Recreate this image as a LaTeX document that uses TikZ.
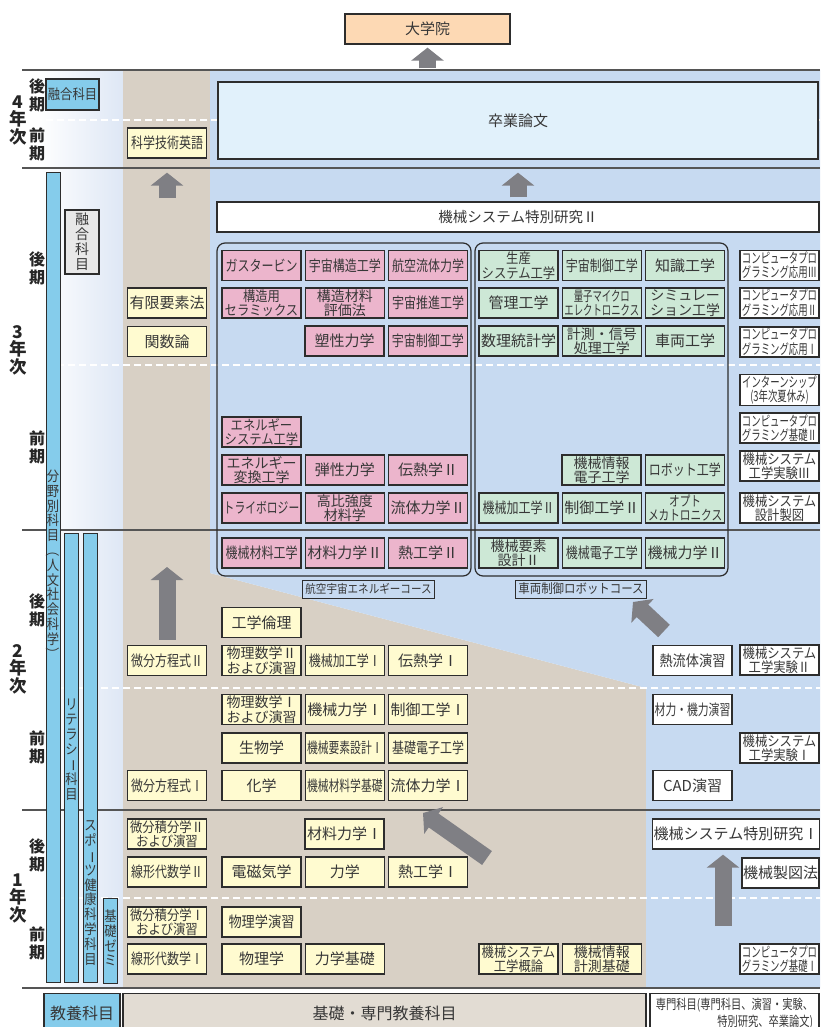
\documentclass[tikz,border=0pt]{standalone}
\usepackage{fontspec}
\usepackage{graphicx}
\usetikzlibrary{arrows.meta,positioning}
\newfontfamily\jp{Noto Sans CJK JP}
\newfontfamily\jpn{Noto Sans CJK JP}[FakeStretch=0.88]
\newfontfamily\jpm{Noto Sans CJK JP}[FakeStretch=0.8]
\newfontfamily\jpq{Noto Sans CJK JP}[FakeStretch=0.76]
\newfontfamily\jpk{Noto Sans CJK JP}[FakeStretch=0.72]
\newfontfamily\jpx{Noto Sans CJK JP}[FakeStretch=0.67]
\newcommand\tate[1]{\rotatebox[origin=c]{-90}{#1}}
\definecolor{ink}{RGB}{55,55,55}
\definecolor{edge}{RGB}{45,45,45}
\definecolor{cream}{RGB}{255,251,208}
\definecolor{rose}{RGB}{236,181,204}
\definecolor{mint}{RGB}{205,232,214}
\definecolor{sky}{RGB}{133,204,235}
\definecolor{sand}{RGB}{216,208,197}
\definecolor{pale}{RGB}{199,218,241}
\definecolor{mist}{RGB}{222,231,245}
\definecolor{ice}{RGB}{225,241,251}
\definecolor{peach}{RGB}{253,217,180}
\definecolor{fog}{RGB}{232,232,232}
\definecolor{slate}{RGB}{127,127,132}
\definecolor{band}{RGB}{85,85,85}
\begin{document}
\begin{tikzpicture}[x=1pt, y=-1pt, node distance=3pt]
  \tikzstyle{cell}=[draw=edge, line width=1.3pt, minimum width=79pt, minimum height=30pt, inner sep=1pt, align=center, text=ink, font=\jp\fontsize{15}{16}\selectfont]
  \tikzstyle{yel}=[cell, fill=cream]
  \tikzstyle{pnk}=[cell, fill=rose]
  \tikzstyle{grn}=[cell, fill=mint]
  \tikzstyle{wht}=[cell, fill=white]
  \tikzstyle{f1}=[font=\jpn\fontsize{15}{16}\selectfont]
  \tikzstyle{f2}=[font=\jpm\fontsize{15}{16}\selectfont]
  \tikzstyle{f3}=[font=\jpk\fontsize{15}{16}\selectfont]
  \tikzstyle{g0}=[font=\jp\fontsize{14}{14.5}\selectfont]
  \tikzstyle{g1}=[font=\jpn\fontsize{14}{14.5}\selectfont]
  \tikzstyle{g2}=[font=\jpq\fontsize{14}{14.5}\selectfont]
  \tikzstyle{g3}=[font=\jpx\fontsize{14}{14.5}\selectfont]
  \tikzstyle{bar}=[draw=edge, line width=1pt, fill=sky, minimum width=14pt, inner sep=0pt]
  \tikzstyle{vtext}=[text=ink, align=center, inner sep=0pt, font=\jpn\fontsize{14}{14.8}\selectfont]
  \tikzstyle{year}=[align=center, inner sep=0pt, text=black!85, font=\jp\bfseries\fontsize{17.5}{17.5}\selectfont]
  \tikzstyle{term}=[align=center, inner sep=0pt, text=black!85, font=\jp\bfseries\fontsize{16}{18}\selectfont]
  \tikzstyle{course}=[rounded corners=8pt, draw=edge, line width=1.2pt, inner sep=0pt]
  \tikzstyle{tag}=[draw=edge, line width=1pt, inner xsep=3pt, inner ysep=1pt, minimum height=18pt, text=ink]
  \tikzstyle{fat}=[line width=17pt, draw=slate, -{Triangle[width=32pt,length=13pt]}]

  \useasboundingbox (0,0) rectangle (820,1027);
  \clip (0,0) rectangle (820,1027);
  \fill[white] (0,0) rectangle (820,1027);
  \shade[left color=white, right color=mist] (38,70) rectangle (123,988);
  \fill[sand] (123,70) -- (210,70) -- (210,573) -- (646,688) -- (646,988) -- (123,988) -- cycle;
  \fill[pale] (210,70) -- (820,70) -- (820,988) -- (646,988) -- (646,688) -- (210,573) -- cycle;
  \foreach \y in {120,365,688,898}
    \draw[white, line width=1.6pt, dash pattern=on 7pt off 4pt] (35,\y) -- (820,\y);
  \foreach \y in {70,168,530,810,988}
    \draw[band, line width=1.2pt] (22,\y) -- (820,\y);

  % years and terms
  \node[year] (y4) at (18,120) {4\\年\\次};
  \node[year] (y3) at (18,350) {3\\年\\次};
  \node[year] (y2) at (18,669) {2\\年\\次};
  \node[year] (y1) at (18,898) {1\\年\\次};
  \node[term] (t4b) at (37,95) {後\\期};
  \node[term] (t4a) at (37,144) {前\\期};
  \node[term] (t3b) at (37,268) {後\\期};
  \node[term] (t3a) at (37,447) {前\\期};
  \node[term] (t2b) at (37,610) {後\\期};
  \node[term] (t2a) at (37,747) {前\\期};
  \node[term] (t1b) at (37,855) {後\\期};
  \node[term] (t1a) at (37,943) {前\\期};

  % liberal arts bars
  \node[bar, minimum height=809pt] (bunya) at (53,577.5) {};
  \node[bar, minimum height=449pt] (litera) at (71.5,757.5) {};
  \node[bar, minimum height=449pt] (sports) at (90.5,757.5) {};
  \node[bar, minimum height=85pt] (kiso) at (110.5,940.5) {};
  \node[vtext] (bunyat) at (53,565) {分\\野\\別\\科\\目\\\tate{（}\\人\\文\\社\\会\\科\\学\\\tate{）}};
  \node[vtext] (literat) at (71.5,750) {リ\\テ\\ラ\\シ\\\tate{ー}\\科\\目};
  \node[vtext] (sportst) at (90.5,893) {ス\\ポ\\\tate{ー}\\ツ\\健\\康\\科\\学\\科\\目};
  \node[vtext] (kisot) at (110.5,938) {基\\礎\\ゼ\\ミ};
  \node[cell, fill=sky, minimum width=53pt, minimum height=31pt, font=\jpn\fontsize{14}{16}\selectfont] (yugo4) at (72.5,94.5) {融合科目};
  \node[cell, fill=fog, minimum width=34pt, minimum height=64pt, font=\jp\fontsize{14}{15}\selectfont] (yugo3) at (82,242) {融\\合\\科\\目};

  % 4th year
  \node[cell, fill=peach, minimum width=165pt] (grad) at (427.5,29) {大学院};
  \node[cell, fill=ice, minimum width=600pt, minimum height=77pt] (thesis) at (518,120.5) {卒業論文};
  \node[yel, f2] (eigo) at (167,143) {科学技術英語};

  % 3rd year
  \node[wht, minimum width=602pt, font=\jp\fontsize{14.5}{16}\selectfont] (toku2) at (518,217) {機械システム特別研究Ⅱ};
  \node[course, minimum width=254pt, minimum height=333pt] (aero) at (344,409.5) {};
  \node[course, minimum width=253pt, minimum height=333pt] (car) at (601.5,409.5) {};
  \node[tag, font=\jpn\fontsize{12}{13}\selectfont] (aerot) at (368.5,589) {航空宇宙エネルギーコース};
  \node[tag, font=\jpn\fontsize{13}{14}\selectfont] (cart) at (581,589) {車両制御ロボットコース};

  \node[yel] (yugen) at (167,303) {有限要素法};
  \node[yel] (kansu) at (167,341.5) {関数論};

  \node[pnk, f2] (gas) at (261.5,265.5) {ガスタービン};
  \node[pnk, f2, right=of gas] (ustr) {宇宙構造工学};
  \node[pnk, f2, right=of ustr] (aflu) {航空流体力学};
  \node[pnk, g1] (cera) at (261.5,303) {構造用\\セラミックス};
  \node[pnk, g0, right=of cera] (hyoka) {構造材料\\評価法};
  \node[pnk, f2, right=of hyoka] (suishin) {宇宙推進工学};
  \node[pnk] (sosei) at (344.5,341) {塑性力学};
  \node[pnk, f2, right=of sosei] (useigyo) {宇宙制御工学};

  \node[grn, g1] (seisan) at (518.5,265.5) {生産\\システム工学};
  \node[grn, f2, right=of seisan] (useigyo2) {宇宙制御工学};
  \node[grn, right=of useigyo2] (chishiki) {知識工学};
  \node[grn] (kanri) at (518.5,303) {管理工学};
  \node[grn, g3, right=of kanri] (ryoshi) {量子マイクロ\\エレクトロニクス};
  \node[grn, g0, right=of ryoshi] (simu) {シミュレー\\ション工学};
  \node[grn] (suri) at (518.5,341) {数理統計学};
  \node[grn, g0, right=of suri] (keisoku) {計測・信号\\処理工学};
  \node[grn, right=of keisoku] (sharyo) {車両工学};

  \node[wht, g3] (oyo3) at (779.5,265.5) {コンピュータプロ\\グラミング応用Ⅲ};
  \node[wht, g3] (oyo2) at (779.5,303) {コンピュータプロ\\グラミング応用Ⅱ};
  \node[wht, g3] (oyo1) at (779.5,342) {コンピュータプロ\\グラミング応用Ⅰ};
  \node[wht, g3] (intern) at (779.5,390) {インターンシップ\\(3年次夏休み)};
  \node[wht, g3] (kiso2) at (779.5,428) {コンピュータプロ\\グラミング基礎Ⅱ};
  \node[wht, g1] (jikken3) at (779.5,466) {機械システム\\工学実験Ⅲ};
  \node[wht, g1] (seizu) at (779.5,508) {機械システム\\設計製図};

  \node[pnk, g1] (enesys) at (261.5,432) {エネルギー\\システム工学};
  \node[pnk, g0] (enehen) at (261.5,470) {エネルギー\\変換工学};
  \node[pnk, right=of enehen] (dansei) {弾性力学};
  \node[pnk, right=of dansei] (den2) {伝熱学Ⅱ};
  \node[pnk, f3] (tribo) at (261.5,508) {トライボロジー};
  \node[pnk, g0, right=of tribo] (kohi) {高比強度\\材料学};
  \node[pnk, right=of kohi] (ryu2) {流体力学Ⅱ};

  \node[grn, g0] (joho) at (601.5,470) {機械情報\\電子工学};
  \node[grn, f2, right=of joho] (robot) {ロボット工学};
  \node[grn, f2] (kako2) at (518.5,508) {機械加工学Ⅱ};
  \node[grn, right=of kako2] (seigyo2) {制御工学Ⅱ};
  \node[grn, g2, right=of seigyo2] (opto) {オプト\\メカトロニクス};

  % 2nd year
  \node[pnk, f2] (zairyo) at (261.5,553) {機械材料工学};
  \node[pnk, right=of zairyo] (zairiki2) {材料力学Ⅱ};
  \node[pnk, right=of zairiki2] (netsu2) {熱工学Ⅱ};
  \node[grn, g0] (yoso2) at (518.5,553) {機械要素\\設計Ⅱ};
  \node[grn, f2, right=of yoso2] (denshi) {機械電子工学};
  \node[grn, right=of denshi] (kiriki2) {機械力学Ⅱ};

  \node[yel] (rinri) at (261.5,622.5) {工学倫理};
  \node[yel, f2] (bibun2) at (167,660.5) {微分方程式Ⅱ};
  \node[yel, g0] (busu2) at (261.5,660.5) {物理数学Ⅱ\\および演習};
  \node[yel, f2, right=of busu2] (kako1) {機械加工学Ⅰ};
  \node[yel, right=of kako1] (den1) {伝熱学Ⅰ};
  \node[wht, f1] (netsuryu) at (692.5,660.5) {熱流体演習};
  \node[wht, g1] (jikken2) at (779.5,660) {機械システム\\工学実験Ⅱ};

  \node[yel, g0] (busu1) at (261.5,709.5) {物理数学Ⅰ\\および演習};
  \node[yel, right=of busu1] (kiriki1) {機械力学Ⅰ};
  \node[yel, right=of kiriki1] (seigyo1) {制御工学Ⅰ};
  \node[wht, f3] (zaiki) at (692.5,709.5) {材力・機力演習};
  \node[yel] (seibutsu) at (261.5,748) {生物学};
  \node[yel, f3, right=of seibutsu] (yoso1) {機械要素設計Ⅰ};
  \node[yel, f2, right=of yoso1] (kisoden) {基礎電子工学};
  \node[wht, g1] (jikken1) at (779.5,748) {機械システム\\工学実験Ⅰ};
  \node[yel, f2] (bibun1) at (167,785.5) {微分方程式Ⅰ};
  \node[yel] (kagaku) at (261.5,785.5) {化学};
  \node[yel, f3, right=of kagaku] (zaikiso) {機械材料学基礎};
  \node[yel, right=of zaikiso] (ryu1) {流体力学Ⅰ};
  \node[wht] (cad) at (692.5,785.5) {CAD演習};

  % 1st year
  \node[yel, g1] (seki2) at (167,834) {微分積分学Ⅱ\\および演習};
  \node[yel] (zairiki1) at (344.5,834) {材料力学Ⅰ};
  \node[wht, minimum width=166pt, font=\jp\fontsize{15}{16}\selectfont] (toku1) at (736,834) {機械システム特別研究Ⅰ};
  \node[yel, f2] (sen2) at (167,872) {線形代数学Ⅱ};
  \node[yel] (denji) at (261.5,872) {電磁気学};
  \node[yel, right=of denji] (rikigaku) {力学};
  \node[yel, right=of rikigaku] (netsu1) {熱工学Ⅰ};
  \node[wht, minimum width=77pt] (seizuho) at (780.5,873) {機械製図法};
  \node[yel, g1] (seki1) at (167,922) {微分積分学Ⅰ\\および演習};
  \node[yel, f1] (butsuen) at (261.5,922) {物理学演習};
  \node[yel, f2] (sen1) at (167,959) {線形代数学Ⅰ};
  \node[yel] (butsuri) at (261.5,959) {物理学};
  \node[yel, right=of butsuri] (rikikiso) {力学基礎};
  \node[yel, g1] (gairon) at (518.5,959) {機械システム\\工学概論};
  \node[yel, g0, right=of gairon] (kesoku) {機械情報\\計測基礎};
  \node[wht, g3] (kiso1) at (779.5,959) {コンピュータプロ\\グラミング基礎Ⅰ};

  % categories
  \node[cell, fill=sky, minimum width=76pt, minimum height=40pt, anchor=north, font=\jp\fontsize{16}{17}\selectfont] (kyoyo) at (82,993) {教養科目};
  \node[cell, fill=sand!75!white, minimum width=523pt, minimum height=40pt, anchor=north, font=\jp\fontsize{16}{17}\selectfont] (kiban) at (384.5,993) {基礎・専門教養科目};
  \node[cell, fill=white, minimum width=169pt, minimum height=40pt, anchor=north, align=right, font=\jpq\fontsize{13.5}{17}\selectfont] (senmon) at (734.5,993) {専門科目(専門科目、演習・実験、\\特別研究、卒業論文)};

  % arrows
  \coordinate (a3) at (167,198);
  \coordinate (a2) at (167,567);
  \coordinate (d2a) at (664,631);
  \coordinate (d2b) at (633,602);
  \coordinate (d1a) at (487,858);
  \coordinate (d1b) at (423,813);
  \coordinate (v1a) at (723,926);
  \draw[fat, shorten <=13pt, shorten >=3pt] (grad.south |- thesis.north) -- (grad.south);
  \draw[fat, shorten <=4pt, shorten >=13pt] (toku2.north) -- (thesis.south);
  \draw[fat, shorten >=14pt] (a3) -- (eigo.south);
  \draw[fat, shorten <=5pt] (bibun2.north) -- (a2);
  \draw[fat] (d2a) -- (d2b);
  \draw[fat] (d1a) -- (d1b);
  \draw[fat, shorten >=5pt] (v1a) -- (v1a |- toku1.south);
\end{tikzpicture}
\end{document}
